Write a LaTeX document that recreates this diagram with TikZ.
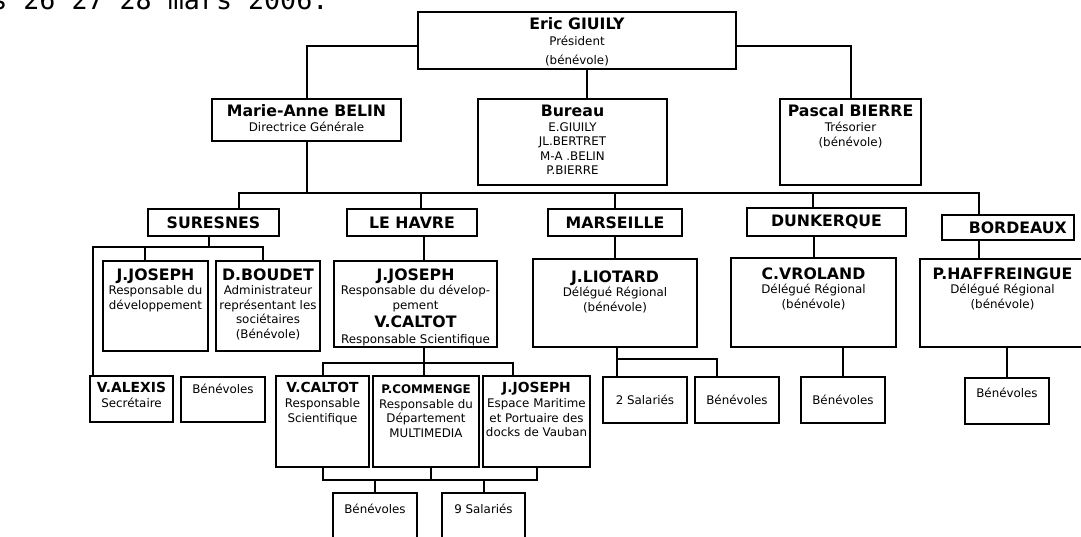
\documentclass[tikz,border=0pt]{standalone}
\usepackage{fontspec}
\setmainfont{DejaVu Sans}
\newfontfamily\datefont{DejaVu Sans Mono}
\usetikzlibrary{calc}

\newcommand{\titre}[1]{{\fontsize{11.8}{14}\selectfont\bfseries #1}}
\newcommand{\titreb}[1]{{\fontsize{10.4}{13}\selectfont\bfseries #1}}
\newcommand{\petittitre}[1]{{\fontsize{8.9}{11}\selectfont\bfseries #1}}

\tikzset{
  box/.style={draw, line width=1.4pt, inner sep=0pt},
  wh/.style 2 args={minimum width=#1*0.75pt, minimum height=#2*0.75pt},
  txt/.style={anchor=north, align=center, inner sep=0pt, font=\fontsize{8.9}{10.9}\selectfont},
  ville/.style={font=\fontsize{11.8}{14}\selectfont\bfseries},
  link/.style={line width=1.5pt},
}

\begin{document}
\begin{tikzpicture}[x=0.75pt,y=-0.75pt]
\useasboundingbox (0,0) rectangle (1081,536);
%date line, cut at the top
\node[anchor=base west, inner sep=0pt, font=\datefont\fontsize{20}{20}\selectfont] (date) at (-9,9) {s 26 27 28 mars 2006.};
%direction
\node[box, wh={318}{57}, label={[txt, yshift=-5pt]north:{\titre{Eric GIUILY}\\[1pt]Président\\[3pt](bénévole)}}] (eric) at (577,40.5) {};
\node[box, wh={189}{42}, label={[txt, yshift=-5pt]north:{\titre{Marie-Anne BELIN}\\Directrice Générale}}] (belin) at (306.5,120) {};
\node[box, wh={189}{86}, label={[txt, yshift=-5pt]north:{\titre{Bureau}\\E.GIUILY\\JL.BERTRET\\M-A .BELIN\\P.BIERRE}}] (bureau) at (572.5,142) {};
\node[box, wh={141}{86}, label={[txt, yshift=-5pt]north:{\titre{Pascal BIERRE}\\Trésorier\\(bénévole)}}] (bierre) at (850.5,142) {};
%villes
\node[box, ville, wh={131}{27}] (suresnes) at (213.5,222.5) {SURESNES};
\node[box, ville, wh={130}{27}] (havre) at (412,222.5) {LE HAVRE};
\node[box, ville, wh={134}{27}] (marseille) at (615,222.5) {MARSEILLE};
\node[box, ville, wh={159}{28}] (dunkerque) at (826.5,222) {DUNKERQUE};
\node[box, ville, wh={132}{25}, text width=88pt, align=right] (bordeaux) at (1008,227.5) {BORDEAUX};
%responsables
\node[box, wh={105}{90}, label={[txt, yshift=-6pt]north:{\titre{J.JOSEPH}\\Responsable du\\développement}}] (sjoseph) at (155.5,306) {};
\node[box, wh={104}{90}, label={[txt, yshift=-6pt]north:{\titre{D.BOUDET}\\Administrateur\\représentant les\\sociétaires\\(Bénévole)}}] (boudet) at (268,306) {};
\node[box, wh={163}{86}, label={[txt, yshift=-6pt]north:{\titre{J.JOSEPH}\\Responsable du dévelop-\\pement\\[3pt]\titre{V.CALTOT}\\[1pt]Responsable Scientifique}}] (hjoseph) at (415.5,304) {};
\node[box, wh={164}{88}, label={[txt, yshift=-9pt]north:{\titre{J.LIOTARD}\\Délégué Régional\\(bénévole)}}] (liotard) at (615,303) {};
\node[box, wh={165}{89}, label={[txt, yshift=-7.5pt]north:{\titre{C.VROLAND}\\Délégué Régional\\(bénévole)}}] (vroland) at (813.5,302.5) {};
\node[box, wh={165}{88}, label={[txt, yshift=-7pt]north:{\titre{P.HAFFREINGUE}\\Délégué Régional\\(bénévole)}}] (haff) at (1002.5,303) {};
%niveau du bas
\node[box, wh={83}{46}, label={[txt, yshift=-5.5pt]north:{\titreb{V.ALEXIS}\\Secrétaire}}] (valexis) at (131.5,399) {};
\node[box, wh={84}{45}, label={[txt, yshift=-5.5pt]north:{Bénévoles}}] (sbenev) at (223,399.5) {};
\node[box, wh={93}{91}, label={[txt, yshift=-5.5pt]north:{\titreb{V.CALTOT}\\Responsable\\Scientifique}}] (hcaltot) at (322.5,421.5) {};
\node[box, wh={106}{91}, label={[txt, yshift=-7pt]north:{\petittitre{P.COMMENGE}\\Responsable du\\Département\\MULTIMEDIA}}] (commenge) at (426,421.5) {};
\node[box, wh={107}{91}, label={[txt, yshift=-5.5pt]north:{\titreb{J.JOSEPH}\\Espace Maritime\\et Portuaire des\\docks de Vauban}}] (hjoseph2) at (536.5,421.5) {};
\node[box, wh={84}{54}, label={[txt, yshift=-9pt]north:{Bénévoles}}] (hbenev) at (375,520) {};
\node[box, wh={83}{54}, label={[txt, yshift=-9pt]north:{9 Salariés}}] (salaries9) at (483.5,520) {};
\node[box, txt, anchor=center, wh={84}{46}] (salaries2) at (645,400) {2 Salariés};
\node[box, txt, anchor=center, wh={84}{46}] (mbenev) at (737,400) {Bénévoles};
\node[box, txt, anchor=center, wh={84}{46}] (dbenev) at (843,400) {Bénévoles};
\node[box, wh={84}{46}, label={[txt, yshift=-8pt]north:{Bénévoles}}] (bbenev) at (1007,401) {};
%liaisons du haut
\draw[link] ($(eric.west)+(0,5.5)$) -| (belin.north);
\draw[link] ($(eric.east)+(0,5.5)$) -| (bierre.north);
\coordinate (e1) at ($(eric.south)+(10,0)$);
\draw[link] (e1) -- (e1 |- bureau.north);
%bus des villes
\coordinate (busL) at (239,193);
\coordinate (busR) at (979,193);
\coordinate (busH) at (421,193);
\coordinate (busD) at (813,193);
\draw[link] (belin.south) -- (belin.south |- busL);
\draw[link] (busL |- suresnes.north) -- (busL) -- (busR) -- (busR |- bordeaux.north);
\draw[link] (busH) -- (busH |- havre.north);
\draw[link] (marseille.north |- busL) -- (marseille.north);
\draw[link] (busD) -- (busD |- dunkerque.north);
%suresnes
\coordinate (sL) at (93,247);
\coordinate (sR) at (263,247);
\coordinate (sJ) at (145,247);
\coordinate (sM) at (209,247);
\draw[link] (sM |- suresnes.south) -- (sM);
\draw[link] (valexis.north -| sL) -- (sL) -- (sR) -- (sR |- boudet.north);
\draw[link] (sJ) -- (sJ |- sjoseph.north);
%le havre
\coordinate (hX) at (424,363);
\coordinate (hR) at (513,363);
\coordinate (bbar) at (0,480);
\draw[link] (havre.south -| hX) -- (hjoseph.north -| hX);
\draw[link] (hjoseph.south -| hX) -- (commenge.north -| hX);
\draw[link] (hcaltot.north) |- (hR) -- (hR |- hjoseph2.north);
\draw[link] (hcaltot.south) |- (hjoseph2.south |- bbar) -- (hjoseph2.south);
\draw[link] ($(commenge.south)+(5,0)$) -- ($(commenge.south |- bbar)+(5,0)$);
\draw[link] (hbenev.north) -- (hbenev.north |- bbar);
\draw[link] (salaries9.north) -- (salaries9.north |- bbar);
%marseille
\coordinate (mL) at (617,359);
\coordinate (mR) at (717,359);
\draw[link] (marseille.south) -- (liotard.north);
\draw[link] (liotard.south -| mL) -- (salaries2.north -| mL);
\draw[link] (mL) -- (mR) -- (mR |- mbenev.north);
%dunkerque
\draw[link] (dunkerque.south -| vroland.north) -- (vroland.north);
\draw[link] (vroland.south -| dbenev.north) -- (dbenev.north);
%bordeaux
\draw[link] (bordeaux.south -| busR) -- (haff.north -| busR);
\draw[link] (haff.south -| bbenev.north) -- (bbenev.north);
\end{tikzpicture}
\end{document}
